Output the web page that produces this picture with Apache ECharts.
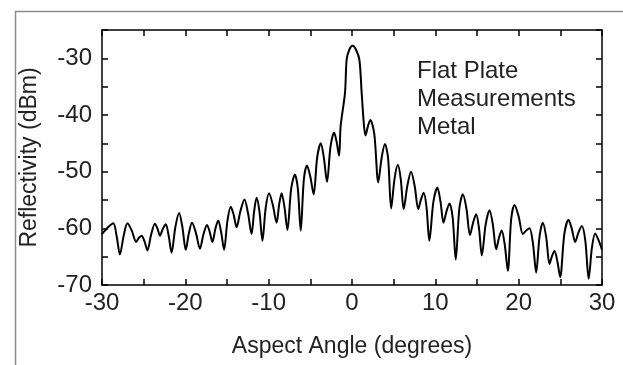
<!DOCTYPE html>
<html>
<head>
<meta charset="utf-8">
<script src="https://cdn.jsdelivr.net/npm/echarts@6/dist/echarts.min.js"></script>
<style>
html,body{margin:0;padding:0;background:#fff;}
#chart{width:623px;height:365px;}
</style>
</head>
<body>
<div id="chart"></div>
<script>
const angles = [
  -30.0, -29.33, -28.65, -28.25, -27.85, -27.4, -26.95, -26.43, -25.9, -25.58,
  -25.25, -24.9, -24.55, -24.1, -23.65, -23.35, -23.05, -22.7, -22.35, -22.0,
  -21.65, -21.2, -20.75, -20.35, -19.95, -19.58, -19.2, -18.73, -18.25, -17.83,
  -17.4, -17.08, -16.75, -16.4, -16.05, -15.7, -15.35, -14.95, -14.55, -14.2,
  -13.85, -13.38, -12.9, -12.48, -12.05, -11.75, -11.45, -11.1, -10.75, -10.35,
  -9.95, -9.5, -9.05, -8.75, -8.45, -8.1, -7.75, -7.3, -6.85, -6.5,
  -6.15, -5.78, -5.4, -5.0, -4.6, -4.18, -3.75, -3.38, -3.0, -2.58,
  -2.15, -1.85, -1.55, -1.36, -0.84, -0.64, -0.3, 0.08, 0.45, 0.88,
  1.16, 1.44, 1.62, 1.91, 2.2, 2.68, 3.15, 3.55, 3.95, 4.33,
  4.7, 5.1, 5.5, 5.85, 6.2, 6.64, 7.08, 7.52, 7.95, 8.28,
  8.6, 8.94, 9.28, 9.77, 10.25, 10.62, 10.98, 11.34, 11.7, 12.08,
  12.45, 12.88, 13.3, 13.73, 14.16, 14.53, 14.9, 15.24, 15.58, 16.04,
  16.5, 16.9, 17.3, 17.63, 17.96, 18.33, 18.7, 19.1, 19.5, 20.0,
  20.5, 20.9, 21.3, 21.7, 22.1, 22.5, 22.9, 23.3, 23.7, 24.0,
  24.3, 24.64, 24.98, 25.48, 25.98, 26.38, 26.78, 27.18, 27.58, 27.99,
  28.4, 28.79, 29.18, 29.59, 30.0
];
const reflectivity = [
  -61.0, -59.9, -59.1, -61.3, -64.6, -61.3, -59.1, -60.4, -62.4, -61.7,
  -61.3, -62.3, -63.9, -61.1, -59.2, -60.0, -61.3, -60.1, -59.3, -61.3,
  -64.3, -59.8, -57.3, -59.8, -63.8, -60.9, -59.0, -60.8, -63.6, -61.1,
  -59.4, -60.6, -62.4, -60.1, -58.6, -60.7, -63.8, -58.7, -56.2, -57.6,
  -59.8, -56.9, -54.9, -57.3, -61.0, -57.1, -54.6, -57.1, -62.2, -56.3,
  -53.8, -55.9, -59.0, -55.9, -53.8, -56.3, -60.3, -53.0, -50.5, -53.0,
  -60.4, -51.4, -48.9, -50.9, -54.0, -47.5, -45.0, -47.5, -51.8, -45.6,
  -43.1, -44.7, -47.2, -41.9, -36.1, -30.2, -28.4, -27.8, -28.4, -30.2,
  -36.1, -41.9, -43.6, -42.0, -40.9, -43.4, -51.9, -47.6, -45.1, -47.6,
  -56.5, -51.3, -48.8, -51.3, -56.6, -52.5, -50.0, -52.5, -56.6, -54.9,
  -53.7, -56.2, -62.2, -55.3, -52.8, -55.3, -59.0, -57.0, -55.6, -58.1,
  -65.5, -56.5, -54.0, -56.5, -61.2, -59.0, -57.5, -60.0, -64.8, -59.3,
  -56.8, -59.3, -63.7, -61.7, -60.4, -62.9, -67.5, -58.4, -55.9, -57.9,
  -61.0, -60.4, -60.0, -62.5, -67.8, -61.5, -59.0, -61.5, -66.3, -64.9,
  -64.0, -65.8, -68.6, -61.0, -58.5, -60.1, -62.4, -60.7, -59.6, -62.1,
  -68.9, -63.4, -60.9, -62.1, -63.8
];
const xTicks = { min: -30, max: 30, interval: 10 };
const yTicks = { min: -70, max: -25, interval: 10 };
const annotationLines = ['Flat Plate', 'Measurements', 'Metal'];
const xTitle = 'Aspect Angle (degrees)';
const yTitle = 'Reflectivity (dBm)';

const FONT = 'Liberation Sans, Arial, sans-serif';
const chart = echarts.init(document.getElementById('chart'), null, { renderer: 'canvas' });

const axisCommon = {
  axisLine: { show: true, onZero: false, lineStyle: { color: '#000', width: 1.5 } },
  axisTick: { show: true, inside: true, length: 6, lineStyle: { color: '#000', width: 1.5 } },
  minorTick: { show: true, splitNumber: 2, length: 6, lineStyle: { color: '#000', width: 1.5 } },
  splitLine: { show: false },
  minorSplitLine: { show: false }
};

chart.setOption({
  animation: false,
  backgroundColor: '#fff',
  grid: { left: 102, right: 21, top: 30, bottom: 80, containLabel: false },
  xAxis: [
    Object.assign({}, axisCommon, {
      type: 'value', position: 'bottom', min: xTicks.min, max: xTicks.max, interval: xTicks.interval,
      name: xTitle, nameLocation: 'middle', nameGap: 50,
      nameTextStyle: { fontFamily: FONT, fontSize: 23, color: '#222' },
      axisLabel: { fontFamily: FONT, fontSize: 24, color: '#222', margin: 6 }
    }),
    Object.assign({}, axisCommon, {
      type: 'value', position: 'top', min: xTicks.min, max: xTicks.max, interval: xTicks.interval,
      axisLabel: { show: false }
    })
  ],
  yAxis: [
    Object.assign({}, axisCommon, {
      type: 'value', position: 'left', min: yTicks.min, max: yTicks.max, interval: yTicks.interval,
      name: yTitle, nameLocation: 'middle', nameGap: 61,
      nameTextStyle: { fontFamily: FONT, fontSize: 23, color: '#222' },
      axisLabel: { fontFamily: FONT, fontSize: 24, color: '#222', margin: 10, showMaxLabel: false }
    }),
    Object.assign({}, axisCommon, {
      type: 'value', position: 'right', min: yTicks.min, max: yTicks.max, interval: yTicks.interval,
      axisLabel: { show: false }
    })
  ],
  graphic: [
    {
      type: 'rect', left: 13, top: 9, z: -1, silent: true,
      shape: { width: 700, height: 500 },
      style: { fill: 'none', stroke: '#8a8a8a', lineWidth: 1.5 }
    },
    {
      type: 'text', left: 417, top: 57, silent: true,
      style: {
        text: annotationLines.join('\n'), fontFamily: FONT, fontSize: 24,
        lineHeight: 28, fill: '#222'
      }
    }
  ],
  series: [{
    type: 'line',
    data: angles.map((a, i) => [a, reflectivity[i]]),
    showSymbol: false,
    smooth: 0.3,
    lineStyle: { color: '#000', width: 2 },
    clip: true
  }]
});
</script>
</body>
</html>
